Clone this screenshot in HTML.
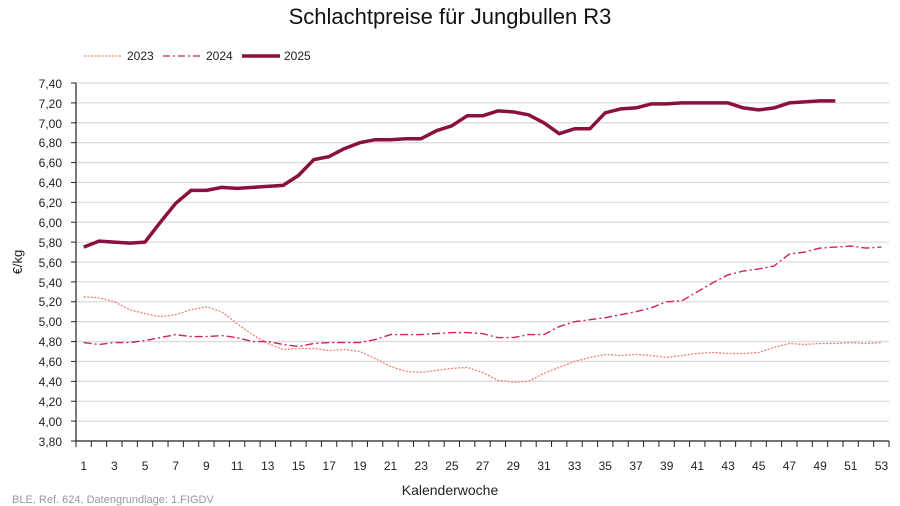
<!DOCTYPE html>
<html><head><meta charset="utf-8"><style>
html,body{margin:0;padding:0;background:#fff;}
svg{display:block;font-family:"Liberation Sans",sans-serif;}
</style></head><body>
<svg id="c" width="900" height="506" viewBox="0 0 900 506">
<text x="450" y="24" text-anchor="middle" font-size="22" fill="#111">Schlachtpreise für Jungbullen R3</text>
<g font-size="12" fill="#222">
<line x1="84" y1="56" x2="122" y2="56" stroke="#f08070" stroke-width="1.2" stroke-dasharray="2,1.5"/>
<text x="127" y="60">2023</text>
<line x1="163" y1="56" x2="202" y2="56" stroke="#d02060" stroke-width="1.3" stroke-dasharray="7,3,2,3"/>
<text x="206" y="60">2024</text>
<line x1="242" y1="56" x2="280" y2="56" stroke="#8a1040" stroke-width="3.5"/>
<text x="284" y="60">2025</text>
</g>
<g id="grid"></g>
<g id="ylab" font-size="12" fill="#222" text-anchor="end">
<text x="62" y="88">7,40</text><text x="62" y="108">7,20</text><text x="62" y="128">7,00</text><text x="62" y="147">6,80</text><text x="62" y="167">6,60</text><text x="62" y="187">6,40</text><text x="62" y="207">6,20</text><text x="62" y="227">6,00</text><text x="62" y="247">5,80</text><text x="62" y="267">5,60</text><text x="62" y="287">5,40</text><text x="62" y="306">5,20</text><text x="62" y="326">5,00</text><text x="62" y="346">4,80</text><text x="62" y="366">4,60</text><text x="62" y="386">4,40</text><text x="62" y="406">4,20</text><text x="62" y="426">4,00</text><text x="62" y="446">3,80</text>
</g>
<g font-size="12" fill="#222" text-anchor="middle">
<text x="83.7" y="470">1</text><text x="114.4" y="470">3</text><text x="145.1" y="470">5</text><text x="175.7" y="470">7</text><text x="206.4" y="470">9</text><text x="237.1" y="470">11</text><text x="267.8" y="470">13</text><text x="298.5" y="470">15</text><text x="329.2" y="470">17</text><text x="359.9" y="470">19</text><text x="390.5" y="470">21</text><text x="421.2" y="470">23</text><text x="451.9" y="470">25</text><text x="482.6" y="470">27</text><text x="513.3" y="470">29</text><text x="544" y="470">31</text><text x="574.6" y="470">33</text><text x="605.3" y="470">35</text><text x="636" y="470">37</text><text x="666.7" y="470">39</text><text x="697.4" y="470">41</text><text x="728.1" y="470">43</text><text x="758.7" y="470">45</text><text x="789.4" y="470">47</text><text x="820.1" y="470">49</text><text x="850.8" y="470">51</text><text x="881.5" y="470">53</text>
</g>
<text x="450" y="495" text-anchor="middle" font-size="14" fill="#222">Kalenderwoche</text>
<text x="22" y="262" text-anchor="middle" font-size="13" fill="#222" transform="rotate(-90 22 262)">€/kg</text>
<text x="12" y="503" font-size="11" fill="#999">BLE, Ref. 624, Datengrundlage: 1.FIGDV</text>
<g id="ser"></g>
</svg>
<script>
var NS="http://www.w3.org/2000/svg";
function y(v){return 441-(v-3.8)*99.44;}
function x(i){return 76+(i+0.5)*15.34;}
var g=document.getElementById("grid");
function el(p,t,a){var e=document.createElementNS(NS,t);for(var k in a)e.setAttribute(k,a[k]);p.appendChild(e);return e;}
for(var v=4.0;v<7.45;v+=0.2)el(g,"line",{x1:76,x2:889,y1:y(v),y2:y(v),stroke:"#dcdcdc","stroke-width":1.3});
el(g,"line",{x1:76,x2:76,y1:83,y2:441,stroke:"#222","stroke-width":1.2});
el(g,"line",{x1:76,x2:889,y1:441,y2:441,stroke:"#222","stroke-width":1.2});
for(var v=3.8;v<7.45;v+=0.2)el(g,"line",{x1:71,x2:76,y1:y(v),y2:y(v),stroke:"#222"});
for(var i=0;i<=53;i++)el(g,"line",{x1:76+i*15.34,x2:76+i*15.34,y1:441,y2:447,stroke:"#222"});
var d25=[5.75,5.81,5.80,5.79,5.80,6.00,6.19,6.32,6.32,6.35,6.34,6.35,6.36,6.37,6.47,6.63,6.66,6.74,6.80,6.83,6.83,6.84,6.84,6.92,6.97,7.07,7.07,7.12,7.11,7.08,7.00,6.89,6.94,6.94,7.10,7.14,7.15,7.19,7.19,7.20,7.20,7.20,7.20,7.15,7.13,7.15,7.20,7.21,7.22,7.22];
var d24=[4.79,4.77,4.79,4.79,4.81,4.84,4.87,4.85,4.85,4.86,4.84,4.80,4.80,4.77,4.75,4.78,4.79,4.79,4.79,4.82,4.87,4.87,4.87,4.88,4.89,4.89,4.88,4.84,4.84,4.87,4.87,4.95,5.00,5.02,5.04,5.07,5.10,5.14,5.20,5.21,5.30,5.39,5.47,5.51,5.53,5.56,5.68,5.70,5.74,5.75,5.76,5.74,5.75];
var d23=[5.25,5.24,5.20,5.12,5.08,5.05,5.07,5.12,5.15,5.10,4.98,4.87,4.78,4.72,4.73,4.73,4.71,4.72,4.70,4.63,4.55,4.50,4.49,4.51,4.53,4.54,4.49,4.41,4.39,4.40,4.48,4.54,4.60,4.64,4.67,4.66,4.67,4.66,4.64,4.66,4.68,4.69,4.68,4.68,4.69,4.74,4.78,4.77,4.78,4.78,4.79,4.78,4.79];
var s=document.getElementById("ser");
function pl(d,a){a.points=d.map(function(v,i){return x(i).toFixed(1)+","+y(v).toFixed(1)}).join(" ");a.fill="none";a["stroke-linejoin"]="round";el(s,"polyline",a);}
pl(d23,{stroke:"#f08070","stroke-width":1.3,"stroke-dasharray":"2,1.5"});
pl(d24,{stroke:"#d02060","stroke-width":1.4,"stroke-dasharray":"8,3,2,3"});
pl(d25,{stroke:"#8a1040","stroke-width":3.5});
</script>
</body></html>
